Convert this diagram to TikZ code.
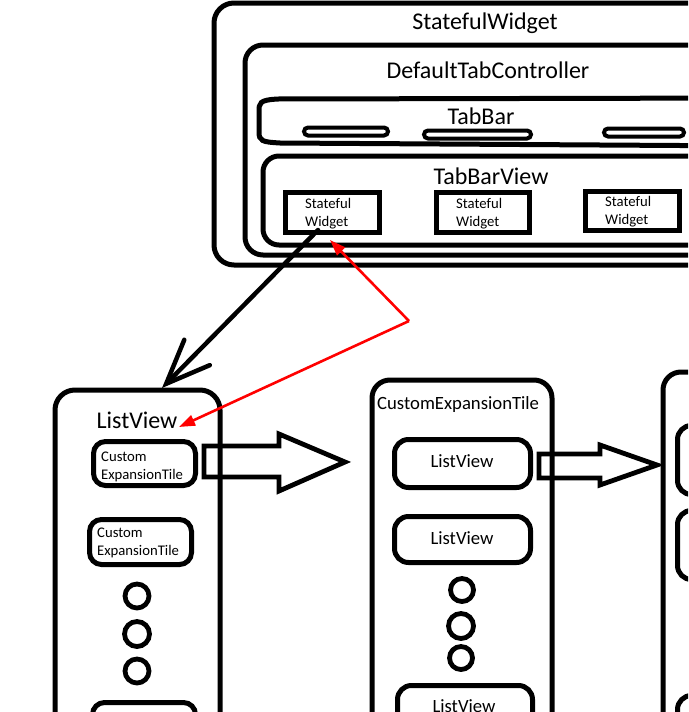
\documentclass[tikz,border=0pt]{standalone}
\usepackage{fontspec}
\setmainfont{Carlito}
\usetikzlibrary{arrows.meta}
\begin{document}
\begin{tikzpicture}[x=1pt,y=-1pt,
  bx/.style={draw,line width=5pt,inner sep=0pt,outer sep=0pt,rectangle},
  pill/.style={draw,line width=4pt,inner sep=0pt,outer sep=0pt,rounded corners=4pt,minimum height=8pt},
  dot/.style={draw,line width=4.8pt,circle,inner sep=0pt,outer sep=0pt},
  bigtxt/.style={font=\fontsize{24}{28}\selectfont,inner sep=0pt,anchor=base},
  midtxt/.style={font=\fontsize{18.7}{22}\selectfont,inner sep=0pt,anchor=base},
  smalltxt/.style={font=\fontsize{14.7}{17}\selectfont,inner sep=0pt,anchor=base west},
  hollow/.style={draw,line width=4.8pt,line join=miter},
  blackarrow/.style={draw,line width=4.5pt,line cap=round,-{Straight Barb[length=44pt,width=36pt,line cap=round]}},
  redarrow/.style={draw=red,line width=2.6pt,-{Triangle[length=16pt,width=11pt]}}]
\useasboundingbox (0,0) rectangle (688,712);
\clip (0,0) rectangle (688,712);
\fill[white] (0,0) rectangle (688,712);

% top group
\node[bx,rounded corners=20pt,minimum width=546pt,minimum height=262pt] (sw) at (487,134) {};
\node[bigtxt] (swt) at (485,29) {StatefulWidget};
\node[bx,rounded corners=18pt,minimum width=515pt,minimum height=210pt] (dtc) at (502.5,150) {};
\node[bigtxt] (dtct) at (488,78) {DefaultTabController};
\draw[line width=5pt] (760,98) -- (278,99) .. controls (259,100) and (259,103) .. (259,112)
  -- (259,132) .. controls (259,141) and (262,142) .. (280,143) -- (760,146);
\coordinate (tabbar) at (480,122);
\node[bigtxt] (tbt) at (481,124) {TabBar};
\node[pill,minimum width=84pt] (p1) at (346,131.5) {};
\node[pill,minimum width=107pt] (p2) at (477.5,134.5) {};
\node[pill,minimum width=80pt] (p3) at (644,132.5) {};
\node[bx,rounded corners=16pt,minimum width=497pt,minimum height=89pt] (tbv) at (511.5,200.5) {};
\node[bigtxt] (tbvt) at (491,184) {TabBarView};
\node[bx,minimum width=94pt,minimum height=40pt] (sw1) at (332.5,212.5) {};
\node[smalltxt] (sw1a) at (305,208) {Stateful};
\node[smalltxt] (sw1b) at (305,226) {Widget};
\node[bx,minimum width=93pt,minimum height=40pt] (sw2) at (483,212.5) {};
\node[smalltxt] (sw2a) at (456,208) {Stateful};
\node[smalltxt] (sw2b) at (456,226) {Widget};
\node[bx,minimum width=94pt,minimum height=39pt] (sw3) at (632.5,211) {};
\node[smalltxt] (sw3a) at (605,206.5) {Stateful};
\node[smalltxt] (sw3b) at (605,224.5) {Widget};

% column 1
\node[bx,rounded corners=20pt,minimum width=165pt,minimum height=410pt] (col1) at (137.5,595) {};
\node[bigtxt] (col1t) at (137,428) {ListView};
\node[bx,rounded corners=12pt,minimum width=102pt,minimum height=44pt] (ceta) at (144.5,463.5) {};
\node[smalltxt] (cetaa) at (101,461) {Custom};
\node[smalltxt] (cetab) at (101,479) {ExpansionTile};
\node[bx,rounded corners=12pt,minimum width=102pt,minimum height=45pt] (cetb) at (140.5,542) {};
\node[smalltxt] (cetba) at (97,537) {Custom};
\node[smalltxt] (cetbb) at (97,555) {ExpansionTile};
\node[bx,rounded corners=12pt,minimum width=103pt,minimum height=57.5pt] (cetc) at (144,731.25) {};
\node[dot,minimum size=24pt] (d1a) at (137,596) {};
\node[dot,minimum size=25pt] (d1b) at (137,634) {};
\node[dot,minimum size=24pt] (d1c) at (137,671) {};

% column 2
\node[bx,rounded corners=18pt,minimum width=180pt,minimum height=420pt] (col2) at (462,590) {};
\node[midtxt,anchor=base west] (col2t) at (377,409) {CustomExpansionTile};
\node[bx,rounded corners=14pt,minimum width=136pt,minimum height=48pt] (lva) at (462.5,463.5) {};
\node[midtxt] (lvat) at (462,467) {ListView};
\node[bx,rounded corners=14pt,minimum width=136pt,minimum height=46pt] (lvb) at (462.5,539.5) {};
\node[midtxt] (lvbt) at (462,544) {ListView};
\node[bx,rounded corners=14pt,minimum width=135pt,minimum height=74.5pt] (lvc) at (465,722.75) {};
\node[midtxt] (lvct) at (464,712) {ListView};
\node[dot,minimum size=23pt] (d2a) at (462,590) {};
\node[dot,minimum size=25pt] (d2b) at (461,626) {};
\node[dot,minimum size=23pt] (d2c) at (461,658) {};

% column 3
\node[bx,rounded corners=18pt,minimum width=237pt,minimum height=428pt] (col3) at (781.5,586) {};
\node[bx,rounded corners=14pt,minimum width=122.5pt,minimum height=69pt] (c3a) at (738.75,460) {};
\node[bx,rounded corners=14pt,minimum width=122.5pt,minimum height=69pt] (c3b) at (738.75,545) {};
\node[bx,rounded corners=14pt,minimum width=122.5pt,minimum height=84.5pt] (c3c) at (738.75,737.75) {};

% hollow arrows
\draw[hollow] (204,446) -- (279,446) -- (279,434) -- (345,462) -- (279,491) -- (279,477) -- (204,477) -- cycle;
\draw[hollow] (539,454) -- (600,454) -- (600,445) -- (657,465) -- (600,485) -- (600,478) -- (539,478) -- cycle;

% connectors
\coordinate (bstart) at (318,230);
\coordinate (lvtop) at (162,388);
\draw[blackarrow] (bstart) -- (lvtop);
\coordinate (rmid) at (409,321);
\coordinate (rtip1) at (330,240);
\coordinate (rtip2) at (179,427);
\draw[redarrow] (rmid) -- (rtip1);
\draw[redarrow] (rmid) -- (rtip2);
\end{tikzpicture}
\end{document}
